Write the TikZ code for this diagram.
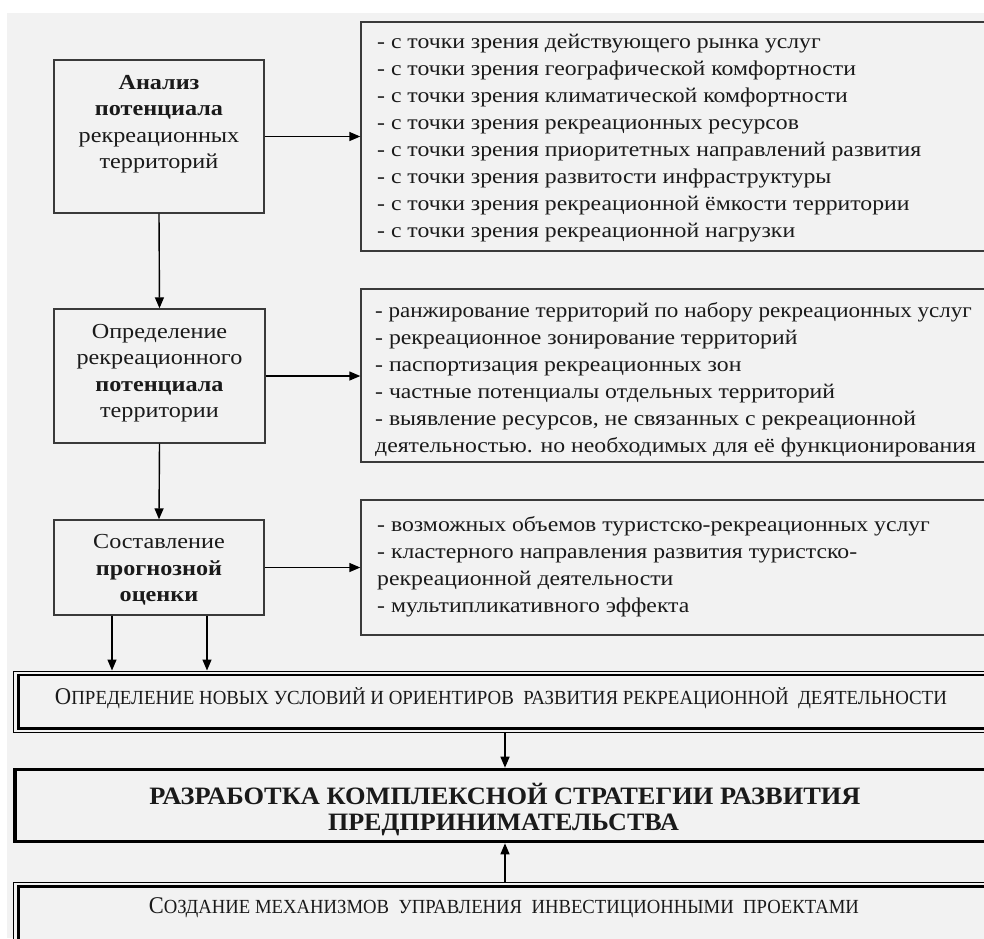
\documentclass[tikz,border=0pt]{standalone}
\usepackage{fontspec}
\setmainfont{Liberation Serif}[FakeStretch=1.13]
\usetikzlibrary{arrows.meta}
\definecolor{bg}{HTML}{F2F2F2}
\definecolor{ln}{HTML}{3A3A3A}
\definecolor{tx}{HTML}{1A1A1A}
\begin{document}
\begin{tikzpicture}[x=1pt,y=-1pt,
  box/.style={draw=ln, line width=1.4pt, fill=bg, inner sep=0pt},
  arr/.style={-{Triangle[length=11pt,width=9pt]}, line width=1.4pt, draw=black},
  lst/.style={font=\fontsize{21}{27}\selectfont, text=tx, align=left, anchor=west, inner sep=0pt},
  ctr/.style={font=\fontsize{21.4}{26.5}\selectfont, text=tx, align=center, inner sep=0pt},
  one/.style={text=tx, inner sep=0pt}
]
\useasboundingbox (0,0) rectangle (984,938);
\fill[white] (0,0) rectangle (984,938);
\fill[bg] (7,13) rectangle (984,938);

% left column boxes
\node[box, minimum width=210, minimum height=153] (a1) at (159,136.5) {};
\node[ctr] (t1) at (159,124) {\textbf{Анализ}\\\textbf{потенциала}\\рекреационных\\территорий};
\node[box, minimum width=211, minimum height=134] (a2) at (159.5,376) {};
\node[ctr] (t2) at (159.5,373) {Определение\\рекреационного\\\textbf{потенциала}\\территории};
\node[box, minimum width=210, minimum height=95] (a3) at (159,567.5) {};
\node[ctr] (t3) at (159,570) {Составление\\\textbf{прогнозной}\\\textbf{оценки}};

% right column boxes
\node[box, minimum width=639, minimum height=229] (r1) at (680.5,136.5) {};
\node[lst] (l1) at (377,138.5) {- с точки зрения действующего рынка услуг\\
- с точки зрения географической комфортности\\
- с точки зрения климатической комфортности\\
- с точки зрения рекреационных ресурсов\\
- с точки зрения приоритетных направлений развития\\
- с точки зрения развитости инфраструктуры\\
- с точки зрения рекреационной ёмкости территории\\
- с точки зрения рекреационной нагрузки};
\node[box, minimum width=639, minimum height=173] (r2) at (680.5,375.5) {};
\node[lst] (l2) at (375,379.5) {\scalebox{0.972}[1]{- ранжирование территорий по набору рекреационных услуг}\\
- рекреационное зонирование территорий\\
- паспортизация рекреационных зон\\
- частные потенциалы отдельных территорий\\
- выявление ресурсов, не связанных с рекреационной\\
деятельностью. но необходимых для её функционирования};
\node[box, minimum width=639, minimum height=135] (r3) at (680.5,567.5) {};
\node[lst] (l3) at (377,566.5) {- возможных объемов туристско-рекреационных услуг\\
- кластерного направления развития туристско-\\
рекреационной деятельности\\
- мультипликативного эффекта};

% bottom boxes
\node[draw=black, line width=1pt, fill=bg, inner sep=0pt, minimum width=987, minimum height=61] (bA) at (506.5,701.5) {};
\draw[line width=2.6pt] ([shift={(6,4.5)}]bA.north west) rectangle ([shift={(-6,-4)}]bA.south east);
\node[one] (tA) at (501,698) {\resizebox{892pt}{\height}{\fontsize{24}{24}\selectfont О{\fontsize{20}{20}\selectfont ПРЕДЕЛЕНИЕ НОВЫХ УСЛОВИЙ И ОРИЕНТИРОВ \ РАЗВИТИЯ РЕКРЕАЦИОННОЙ \ ДЕЯТЕЛЬНОСТИ}}};

\node[draw=black, line width=3.6pt, fill=bg, inner sep=0pt, minimum width=985, minimum height=72] (bB) at (507.5,805.5) {};
\node[one] (tB1) at (505,794) {\resizebox{711pt}{\height}{\fontsize{25}{25}\selectfont\bfseries РАЗРАБОТКА КОМПЛЕКСНОЙ СТРАТЕГИИ РАЗВИТИЯ}};
\node[one] (tB2) at (503.5,825) {\resizebox{351pt}{\height}{\fontsize{25}{25}\selectfont\bfseries ПРЕДПРИНИМАТЕЛЬСТВА}};

\node[draw=black, line width=1pt, fill=bg, inner sep=0pt, minimum width=987, minimum height=80] (bC) at (506.5,922) {};
\draw[line width=2.6pt] ([shift={(6,5)}]bC.north west) rectangle ([shift={(-6,-5)}]bC.south east);
\node[one] (tC) at (504,908) {\resizebox{710pt}{\height}{\fontsize{24}{24}\selectfont С{\fontsize{20}{20}\selectfont ОЗДАНИЕ МЕХАНИЗМОВ \ УПРАВЛЕНИЯ \ ИНВЕСТИЦИОННЫМИ \ ПРОЕКТАМИ}}};

% connectors
\draw[arr] (a1.east) -- (r1.west |- a1.east);
\draw[arr] (a2.east) -- (r2.west |- a2.east);
\draw[arr] (a3.east) -- (r3.west |- a3.east);
\draw[arr] (a1.south) -- (a2.north);
\draw[arr] (a2.south) -- (a3.north);
\draw[arr] ([xshift=-47]a3.south) -- ([xshift=-47]a3.south |- bA.north);
\draw[arr] ([xshift=48]a3.south) -- ([xshift=48]a3.south |- bA.north);
\draw[arr] (bA.south -| 505,0) -- (bB.north -| 505,0);
\draw[arr] (bC.north -| 505,0) -- (bB.south -| 505,0);
\end{tikzpicture}
\end{document}
